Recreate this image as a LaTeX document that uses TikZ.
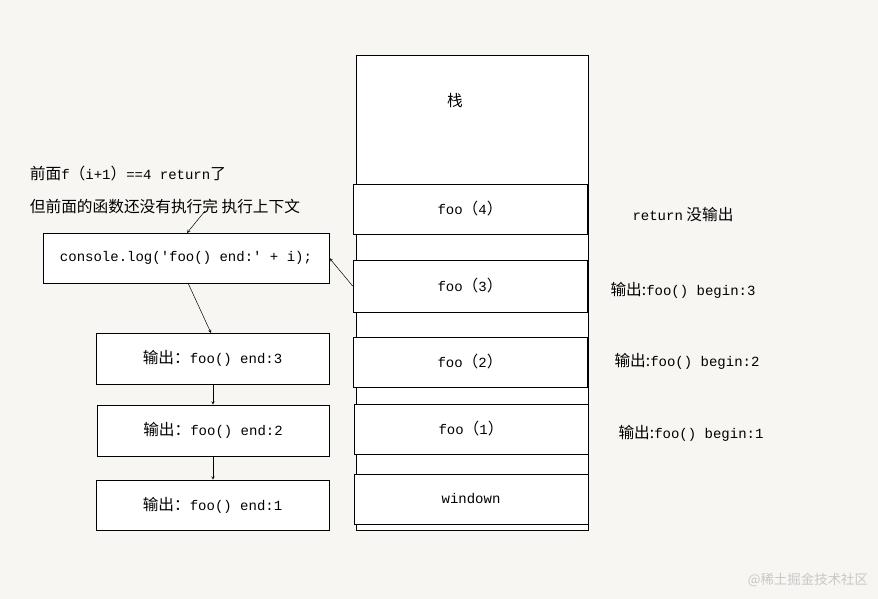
\documentclass[tikz,border=0pt]{standalone}
\usepackage{fontspec}
\setmainfont[Scale=1.12]{Noto Sans CJK SC}
\setmonofont{Liberation Mono}
\newcommand{\lp}{{\rmfamily （}}
\newcommand{\rp}{{\rmfamily ）}}
\begin{document}
\begin{tikzpicture}[x=1pt,y=-1pt,
  box/.style={draw,fill=white,line width=0.7pt},
  lbl/.style={font=\fontsize{14}{16}\selectfont},
  arr/.style={-stealth,line width=0.5pt}]
\fill[fill={rgb,255:red,247;green,246;blue,242}] (0,0) rectangle (878,599);
\useasboundingbox (0,0) rectangle (878,599);
\draw[box] (356,55) rectangle (588,530);
\node[lbl] (zhan) at (455,101) {栈};
\node[box,minimum width=234pt,minimum height=50pt,lbl] (f4) at (470,209) {\texttt{foo}\lp\texttt{4}\rp};
\node[box,minimum width=234pt,minimum height=52pt,lbl] (f3) at (470,286) {\texttt{foo}\lp\texttt{3}\rp};
\node[box,minimum width=234pt,minimum height=50pt,lbl] (f2) at (470,362) {\texttt{foo}\lp\texttt{2}\rp};
\node[box,minimum width=234pt,minimum height=50pt,lbl] (f1) at (471,429) {\texttt{foo}\lp\texttt{1}\rp};
\node[box,minimum width=234pt,minimum height=50pt,lbl] (w) at (471,499) {\ttfamily windown};
\node[lbl,anchor=west] (t1) at (26,174) {前面\texttt{f}\lp\texttt{i+1}\rp\texttt{==4 return}了};
\node[lbl,anchor=west] (t2) at (26,206) {但前面的函数还没有执行完 执行上下文};
\node[box,minimum width=286pt,minimum height=50pt,lbl] (c) at (186,258) {\ttfamily console.log('foo() end:' + i);};
\node[box,minimum width=233pt,minimum height=51pt,lbl] (e3) at (212.5,358.5) {输出：\texttt{foo() end:3}};
\node[box,minimum width=232pt,minimum height=51pt,lbl] (e2) at (213,430.5) {输出：\texttt{foo() end:2}};
\node[box,minimum width=233pt,minimum height=50pt,lbl] (e1) at (212.5,505) {输出：\texttt{foo() end:1}};
\node[lbl] (r4) at (683,215) {\texttt{return} 没输出};
\node[lbl] (r3) at (683,290) {输出:\texttt{foo() begin:3}};
\node[lbl] (r2) at (687,361) {输出:\texttt{foo() begin:2}};
\node[lbl] (r1) at (691,433) {输出:\texttt{foo() begin:1}};
\node[font=\fontsize{12}{14}\selectfont,text={rgb,255:red,200;green,200;blue,200},anchor=east] (wm) at (872,580) {@稀土掘金技术社区};
\draw[arr] (205,211) -- (187,233);
\draw[arr] (188,283) -- (211,333);
\draw[arr] (e3.south -| 213,0) -- (e2.north -| 213,0);
\draw[arr] (e2.south -| 213,0) -- (e1.north -| 213,0);
\draw[arr] (f3.west) -- (c.east);
\end{tikzpicture}
\end{document}
